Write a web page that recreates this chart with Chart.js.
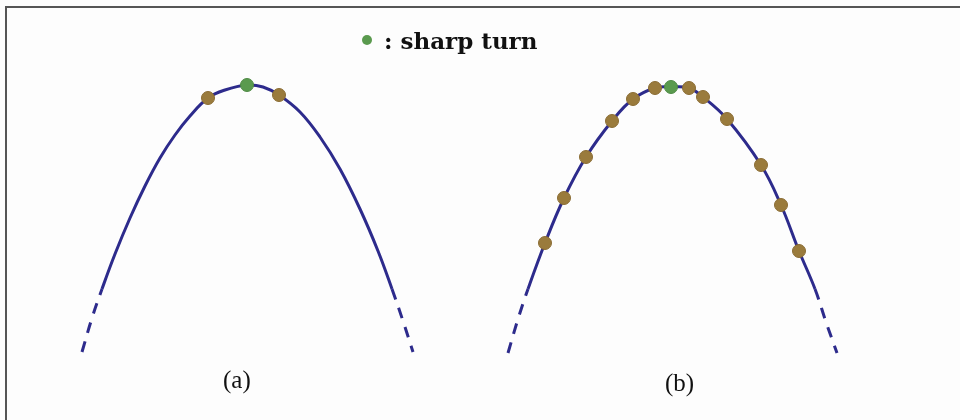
<!DOCTYPE html>
<html>
<head>
<meta charset="utf-8">
<script src="https://cdn.jsdelivr.net/npm/chart.js@4/dist/chart.umd.min.js"></script>
<style>
  html, body { margin: 0; padding: 0; background: #fff; }
  #wrap { position: relative; width: 960px; height: 420px; overflow: hidden; background: #fdfdfd; }
  #frame { position: absolute; left: 5px; top: 6px; width: 960px; height: 420px;
           border-left: 2px solid #555; border-top: 2px solid #555; }
  #myChart { position: absolute; left: 0; top: 0; }
  .lbl { position: absolute; font-family: "Liberation Serif", serif; font-size: 25px; color: #111; }
  #key { position: absolute; left: 362px; top: 27px; font-family: "DejaVu Serif", serif;
         font-weight: bold; font-size: 23px; color: #111; white-space: nowrap; }
  #key .dot { display: inline-block; width: 10px; height: 10px; border-radius: 50%;
              background: #5a9a4e; margin-right: 12px; vertical-align: 4px; }
</style>
</head>
<body>
<div id="wrap">
  <div id="frame"></div>
  <canvas id="myChart" width="960" height="420"></canvas>
  <div id="key"><span class="dot"></span>: sharp turn</div>
  <div class="lbl" style="left:223px; top:366px;">(a)</div>
  <div class="lbl" style="left:665px; top:369px;">(b)</div>
</div>
<script>
// curve (a): x position and height
const curveAx = [82, 92, 102, 115, 130, 145, 160, 175, 190, 208, 225, 247, 263, 279, 300, 320, 340, 360, 378, 392, 403, 413];
const curveAy = [68, 102, 131, 166, 202, 234, 262, 285, 304, 322, 330, 335, 333, 325, 308, 283, 251, 211, 169, 131, 99, 68];

// curve (b)
const curveBx = [508, 518, 528, 545, 564, 586, 612, 633, 655, 671, 689, 703, 727, 761, 781, 799, 815, 826, 837];
const curveBy = [67, 101, 131, 177, 222, 263, 299, 321, 332, 333, 332, 323, 301, 255, 215, 169, 131, 98, 67];

// sampled points on the curves
const samplesAx = [208, 279];
const samplesAy = [322, 325];
const samplesBx = [545, 564, 586, 612, 633, 655, 689, 703, 727, 761, 781, 799];
const samplesBy = [177, 222, 263, 299, 321, 332, 332, 323, 301, 255, 215, 169];

// sharp turns
const turnX = [247, 671];
const turnY = [335, 333];

const zip = (xs, ys) => xs.map((x, i) => ({ x: x, y: ys[i] }));

function dashEnds(n) {
  return ctx => (ctx.p0DataIndex < 2 || ctx.p1DataIndex > n - 3) ? [11, 9] : undefined;
}

const lineColor = '#2d2b8c';

const ctx = document.getElementById('myChart').getContext('2d');
const myChart = new Chart(ctx, {
  type: 'scatter',
  data: {
    datasets: [
      {
        label: 'turn',
        data: zip(turnX, turnY),
        backgroundColor: '#5a9a4e',
        borderColor: '#4f8a45',
        borderWidth: 1,
        pointRadius: 6.5,
        order: 0
      },
      {
        label: 'samples a',
        data: zip(samplesAx, samplesAy),
        backgroundColor: '#9a7b3c',
        borderColor: '#8a6c33',
        borderWidth: 1,
        pointRadius: 6.5,
        order: 1
      },
      {
        label: 'samples b',
        data: zip(samplesBx, samplesBy),
        backgroundColor: '#9a7b3c',
        borderColor: '#8a6c33',
        borderWidth: 1,
        pointRadius: 6.5,
        order: 1
      },
      {
        label: 'curve a',
        data: zip(curveAx, curveAy),
        showLine: true,
        borderColor: lineColor,
        borderWidth: 3,
        pointRadius: 0,
        tension: 0.4,
        segment: { borderDash: dashEnds(curveAx.length) },
        order: 2
      },
      {
        label: 'curve b',
        data: zip(curveBx, curveBy),
        showLine: true,
        borderColor: lineColor,
        borderWidth: 3,
        pointRadius: 0,
        tension: 0.4,
        segment: { borderDash: dashEnds(curveBx.length) },
        order: 2
      }
    ]
  },
  options: {
    responsive: false,
    animation: false,
    layout: { padding: 0, autoPadding: false },
    plugins: { legend: { display: false }, tooltip: { enabled: false } },
    scales: {
      x: { type: 'linear', min: 0, max: 960, display: false },
      y: { type: 'linear', min: 0, max: 420, display: false }
    }
  }
});
</script>
</body>
</html>
